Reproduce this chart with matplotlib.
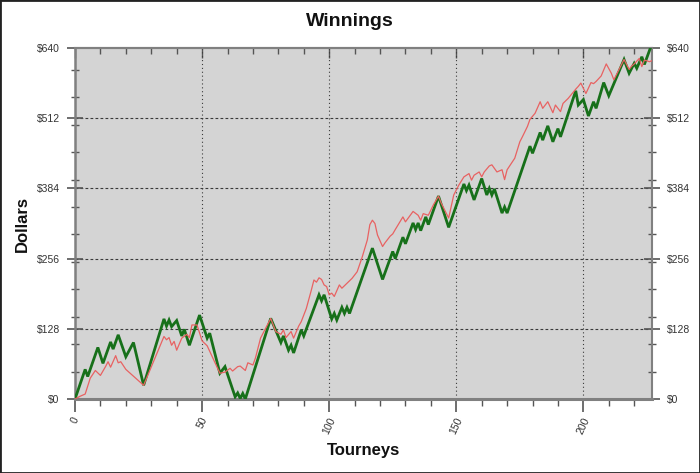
import matplotlib
matplotlib.use("Agg")
import matplotlib.pyplot as plt
from matplotlib.patches import Rectangle
from matplotlib.ticker import MultipleLocator, FixedLocator

# ---- data ----
green_x = [0, 4, 5, 9, 11, 14, 15, 17, 20, 23, 27, 35, 36, 37, 38, 40, 42, 43, 45, 49,
           52, 53, 57, 59, 63, 64, 65, 66, 67, 77, 81, 82, 84, 85, 86, 89, 90, 96, 97, 98,
           101, 102, 103, 105, 106, 107, 108, 117, 121, 125, 126, 129, 130, 133, 134, 135,
           136, 138, 139, 143, 147, 153, 154, 155, 157, 160, 162, 163, 164, 165, 168, 169,
           170, 179, 180, 183, 184, 186, 188, 190, 191, 197, 198, 200, 202, 204, 205, 208,
           210, 216, 218, 220, 221, 223, 224, 227]
green_y = [0, 54, 41, 94, 65, 104, 91, 117, 77, 103, 25, 146, 133, 144, 132, 143, 115, 127, 98, 153,
           111, 120, 47, 59, 4, 11, 1, 10, 0, 147, 103, 115, 89, 98, 84, 126, 115, 190, 179, 190,
           146, 156, 144, 167, 156, 167, 156, 275, 218, 269, 256, 295, 283, 321, 309, 321,
           307, 332, 318, 370, 313, 392, 380, 390, 363, 402, 372, 384, 372, 383, 339, 350,
           339, 461, 448, 486, 472, 498, 469, 493, 478, 562, 536, 546, 516, 542, 530, 577,
           553, 619, 594, 612, 603, 624, 610, 648]

red_x = [0, 2, 4, 6, 8, 10, 12, 13, 14, 16, 17, 18, 20, 27, 35, 36, 37, 38, 39, 40, 42, 44,
         45, 46, 48, 50, 52, 54, 57, 59, 61, 62, 64, 65, 67, 68, 70, 71, 73, 75, 77, 79, 81,
         82, 83, 85, 86, 88, 89, 91, 93, 94, 95, 96, 97, 98, 99, 100, 101, 102, 104, 105, 107,
         109, 111, 113, 115, 116, 117, 118, 119, 121, 122, 124, 125, 126, 129, 130, 133, 135,
         136, 137, 139, 141, 143, 144, 147, 149, 151, 153, 155, 156, 157, 159, 160, 161, 163,
         164, 166, 168, 169, 170, 173, 175, 176, 178, 179, 181, 183, 184, 186, 188, 189, 190,
         191, 192, 194, 197, 198, 199, 201, 203, 204, 205, 207, 208, 209, 211, 212, 216, 218,
         219, 220, 222, 223, 224, 226, 227]
red_y = [0, 5, 9, 38, 52, 43, 59, 68, 58, 79, 66, 68, 54, 25, 114, 108, 112, 98, 105, 89, 111, 118,
         112, 135, 135, 106, 97, 77, 47, 49, 56, 51, 59, 60, 52, 66, 62, 75, 111, 129, 147, 123, 118,
         126, 112, 123, 111, 133, 141, 165, 199, 217, 213, 221, 218, 208, 205, 190, 193, 187, 208, 202, 211,
         220, 232, 259, 290, 318, 326, 320, 299, 278, 285, 297, 301, 309, 332, 323, 342, 335,
         326, 338, 335, 354, 370, 358, 330, 372, 390, 405, 411, 399, 408, 414, 405, 414, 425,
         427, 414, 418, 400, 418, 439, 469, 478, 497, 510, 521, 542, 530, 542, 522, 536, 530,
         524, 539, 548, 565, 570, 576, 557, 577, 575, 579, 589, 600, 611, 594, 582, 619, 601,
         607, 611, 621, 606, 618, 615, 617]

y_ticks = [0, 128, 256, 384, 512, 640]
y_tick_labels = ["$0", "$128", "$256", "$384", "$512", "$640"]
x_ticks = [0, 50, 100, 150, 200]
x_tick_labels = ["0", "50", "100", "150", "200"]

# ---- figure ----
plt.rcParams['font.family'] = ['Liberation Sans', 'DejaVu Sans']
fig = plt.figure(figsize=(7.0, 4.73), dpi=100)
fig.patch.set_facecolor('white')
ax = fig.add_axes([75/700, 74/473, 577/700, 351/473])
ax.set_facecolor('#d4d4d4')

ax.set_xlim(0, 227)
ax.set_ylim(0, 640)

# grid
for yv in y_ticks[1:-1]:
    ax.axhline(yv, color='#3a3a3a', lw=0.8, ls=(0, (2.5, 2)), zorder=1)
for xv in x_ticks[1:]:
    ax.axvline(xv, color='#3a3a3a', lw=0.8, ls=(0, (1, 2.5)), zorder=1)

ax.plot(green_x, green_y, color='#17701a', lw=2.0, zorder=3, solid_joinstyle='miter')
ax.plot(red_x, red_y, color='#e86262', lw=0.9, zorder=4)

# ticks
ax.set_yticks(y_ticks)
ax.set_yticklabels(y_tick_labels)
ax.yaxis.set_minor_locator(FixedLocator(list(range(50, 640, 50))))
ax.tick_params(axis='y', which='major', direction='inout', length=12, width=1.2,
               color='#555555', left=True, right=True, labelleft=True, labelright=True,
               labelsize=7.5, labelcolor='#333333', pad=5)
ax.tick_params(axis='y', which='minor', direction='inout', length=6, width=1.0,
               color='#555555', left=True, right=True)

ax.set_xticks(x_ticks)
ax.set_xticklabels(x_tick_labels, rotation=65, ha='center', va='top')
ax.xaxis.set_minor_locator(MultipleLocator(10))
ax.tick_params(axis='x', which='major', direction='out', length=9, width=1.2,
               color='#555555', labelsize=7.5, labelcolor='#333333', pad=3)
ax.tick_params(axis='x', which='minor', direction='out', length=5, width=1.0,
               color='#555555')

sec = ax.secondary_xaxis('top')
sec.set_xticks(x_ticks)
sec.xaxis.set_minor_locator(MultipleLocator(10))
sec.tick_params(axis='x', which='major', direction='in', length=7, width=1.0,
                color='#555555', labeltop=False)
sec.tick_params(axis='x', which='minor', direction='in', length=4, width=1.0,
                color='#555555')
sec.spines['top'].set_color('#808080')
sec.spines['top'].set_linewidth(1.5)

for s in ['left', 'right', 'top', 'bottom']:
    ax.spines[s].set_color('#808080')
    ax.spines[s].set_linewidth(1.5)
ax.spines['bottom'].set_linewidth(2.2)
ax.spines['left'].set_linewidth(1.8)

fig.text(0.5, 1 - 22/473, "Winnings", ha='center', va='center', fontsize=14,
         fontweight='bold', color='#111111')
ax.set_ylabel("Dollars", fontsize=12, fontweight='bold', color='#111111')
ax.set_xlabel("Tourneys", fontsize=12, fontweight='bold', color='#111111')
ax.yaxis.set_label_coords((22 - 75) / 577, 0.5)
ax.xaxis.set_label_coords(0.5, (399 - 450) / 351)
ax.xaxis.label.set_va('center')
ax.yaxis.label.set_va('center')

fig.patches.append(Rectangle((0, 0), 1, 1, transform=fig.transFigure, fill=False,
                             edgecolor='#222222', lw=2.0))

fig.savefig('out.png', dpi=100, facecolor='white')
